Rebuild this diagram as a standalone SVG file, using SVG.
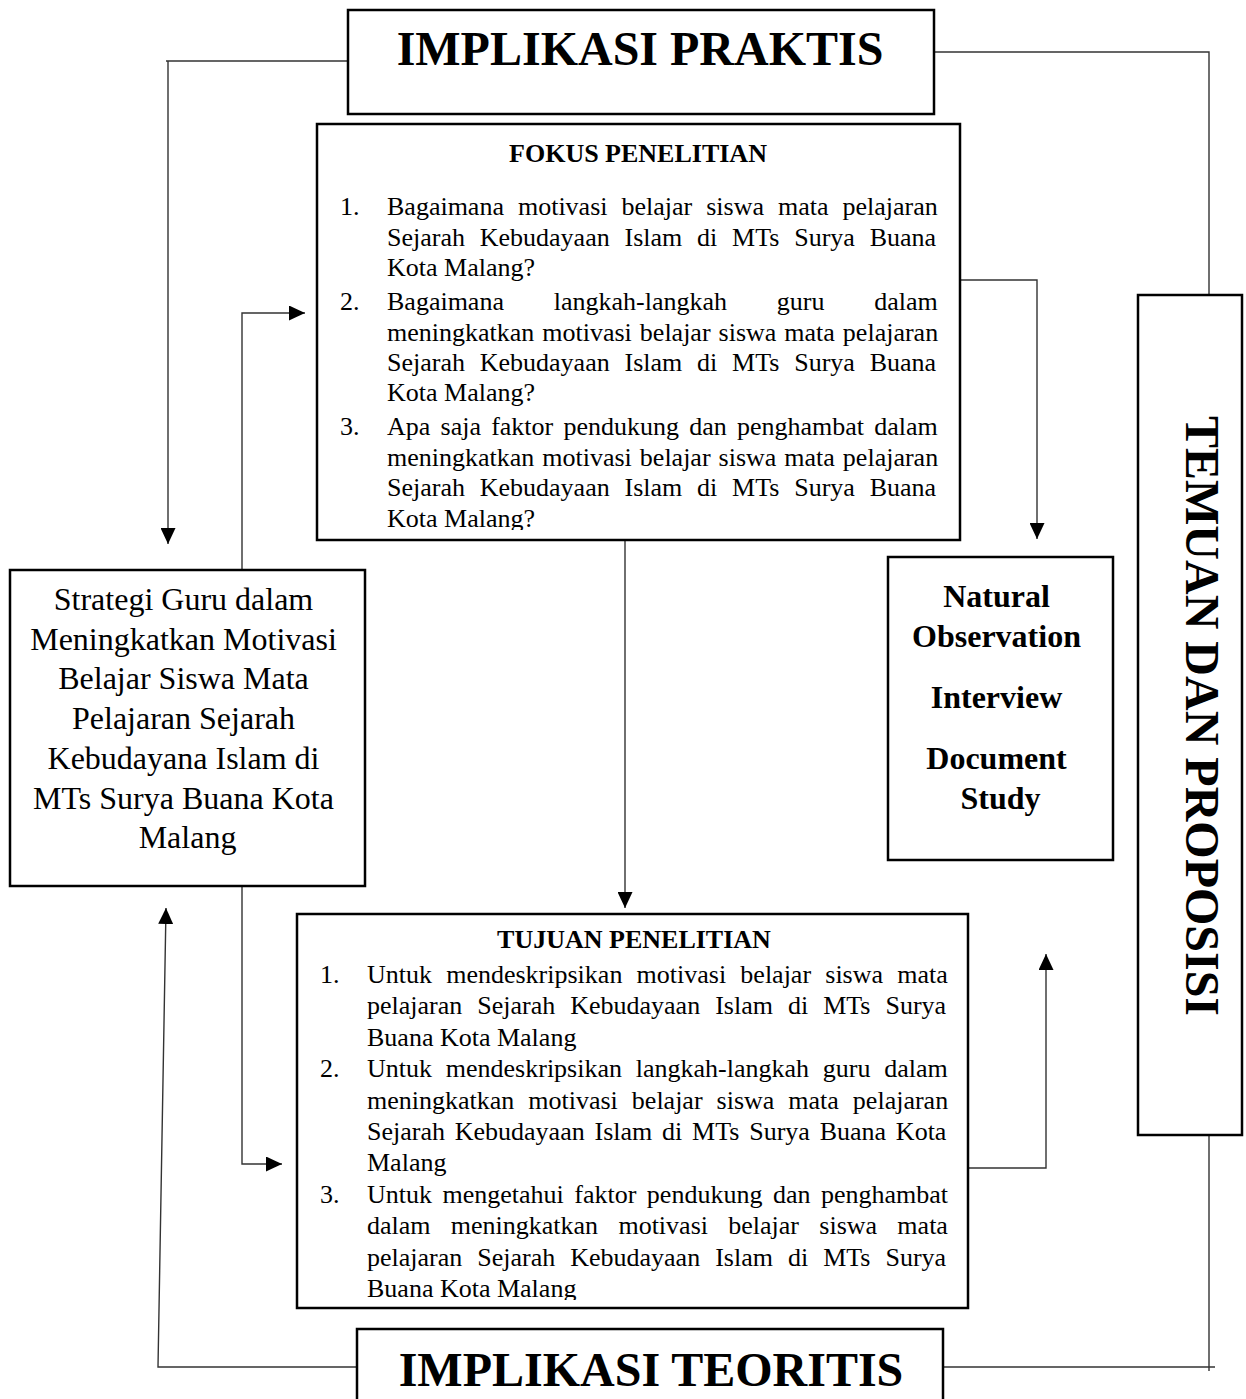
<svg xmlns="http://www.w3.org/2000/svg" width="1246" height="1399" viewBox="0 0 1246 1399">
<style>
.box{fill:#fff;stroke:#000;stroke-width:2.5}
.con{fill:none;stroke:#333;stroke-width:1.4}
.big{font-family:"Liberation Serif","Times New Roman",serif;font-weight:bold;font-size:48px;fill:#000}
.ttl{font-family:"Liberation Serif","Times New Roman",serif;font-weight:bold;font-size:26px;fill:#000}
.t{font-family:"Liberation Serif","Times New Roman",serif;font-size:26px;fill:#000}
.lt{font-family:"Liberation Serif","Times New Roman",serif;font-size:32px;fill:#000}
.bt{font-family:"Liberation Serif","Times New Roman",serif;font-weight:bold;font-size:32px;fill:#000}
</style>
<defs>
<marker id="arr" markerUnits="userSpaceOnUse" markerWidth="16" markerHeight="15" refX="16" refY="7.5" orient="auto">
<path d="M0,0 L16,7.5 L0,15 z" fill="#000"/>
</marker>
<clipPath id="clipF"><rect x="317" y="124" width="643" height="406"/></clipPath>
<clipPath id="clipT"><rect x="297" y="914" width="671" height="386"/></clipPath>
</defs>
<rect width="1246" height="1399" fill="#fff"/>

<g id="connectors">
<path class="con" d="M348,61 H166 M168,61 V544" marker-end="url(#arr)"/>
<path class="con" d="M934,52 H1209 V295"/>
<path class="con" d="M242,570 V313 H305" marker-end="url(#arr)"/>
<path class="con" d="M960,280 H1037 V539" marker-end="url(#arr)"/>
<path class="con" d="M625,540 V908" marker-end="url(#arr)"/>
<path class="con" d="M242,886 V1164 H282" marker-end="url(#arr)"/>
<path class="con" d="M968,1168 H1046 V954" marker-end="url(#arr)"/>
<path class="con" d="M357,1367 H158 L166,908" marker-end="url(#arr)"/>
<path class="con" d="M943,1367 H1215 M1209,1371 V1135"/>
</g>

<g id="implikasi-praktis">
<rect class="box" x="348" y="10" width="586" height="104"/>
<text class="big" x="640" y="65" text-anchor="middle">IMPLIKASI PRAKTIS</text>
</g>

<g id="fokus-penelitian">
<rect class="box" x="317" y="124" width="643" height="416"/>
<text class="ttl" x="638" y="162" text-anchor="middle">FOKUS PENELITIAN</text>
<g clip-path="url(#clipF)">
<text class="t" x="340" y="215">1.</text>
<text class="t" x="387" y="215" word-spacing="7.5">Bagaimana motivasi belajar siswa mata pelajaran</text>
<text class="t" x="387" y="245.5" word-spacing="8.3">Sejarah Kebudayaan Islam di MTs Surya Buana</text>
<text class="t" x="387" y="276">Kota Malang?</text>
<text class="t" x="340" y="310">2.</text>
<text class="t" x="387" y="310" word-spacing="43.3">Bagaimana langkah-langkah guru dalam</text>
<text class="t" x="387" y="340.5" word-spacing="1.5">meningkatkan motivasi belajar siswa mata pelajaran</text>
<text class="t" x="387" y="371" word-spacing="8.3">Sejarah Kebudayaan Islam di MTs Surya Buana</text>
<text class="t" x="387" y="401">Kota Malang?</text>
<text class="t" x="340" y="435">3.</text>
<text class="t" x="387" y="435" word-spacing="3.7">Apa saja faktor pendukung dan penghambat dalam</text>
<text class="t" x="387" y="465.5" word-spacing="1.5">meningkatkan motivasi belajar siswa mata pelajaran</text>
<text class="t" x="387" y="496" word-spacing="8.3">Sejarah Kebudayaan Islam di MTs Surya Buana</text>
<text class="t" x="387" y="526.5">Kota Malang?</text>
</g>
</g>

<g id="strategi-guru">
<rect class="box" x="10" y="570" width="355" height="316"/>
<text class="lt" text-anchor="middle">
<tspan x="187.5" y="610">Strategi Guru dalam</tspan>
<tspan x="187.5" y="649.7">Meningkatkan Motivasi</tspan>
<tspan x="187.5" y="689.4">Belajar Siswa Mata</tspan>
<tspan x="187.5" y="729.1">Pelajaran Sejarah</tspan>
<tspan x="187.5" y="768.8">Kebudayana Islam di</tspan>
<tspan x="187.5" y="808.5">MTs Surya Buana Kota</tspan>
<tspan x="187.5" y="848.2">Malang</tspan>
</text>
</g>

<g id="metode">
<rect class="box" x="888" y="557" width="225" height="303"/>
<text class="bt" text-anchor="middle">
<tspan x="1000.5" y="607">Natural</tspan>
<tspan x="1000.5" y="647">Observation</tspan>
<tspan x="1000.5" y="708">Interview</tspan>
<tspan x="1000.5" y="769">Document</tspan>
<tspan x="1000.5" y="809">Study</tspan>
</text>
</g>

<g id="temuan-proposisi">
<rect class="box" x="1138" y="295" width="104" height="840"/>
<text class="big" transform="translate(1186,716) rotate(90)" x="0" y="0" text-anchor="middle">TEMUAN DAN PROPOSISI</text>
</g>

<g id="tujuan-penelitian">
<rect class="box" x="297" y="914" width="671" height="394"/>
<text class="ttl" x="634" y="948" text-anchor="middle">TUJUAN PENELITIAN</text>
<g clip-path="url(#clipT)">
<text class="t" x="320" y="982.5">1.</text>
<text class="t" x="367" y="982.5" word-spacing="7.7">Untuk mendeskripsikan motivasi belajar siswa mata</text>
<text class="t" x="367" y="1014" word-spacing="8.5">pelajaran Sejarah Kebudayaan Islam di MTs Surya</text>
<text class="t" x="367" y="1045.5">Buana Kota Malang</text>
<text class="t" x="320" y="1077">2.</text>
<text class="t" x="367" y="1077" word-spacing="7.3">Untuk mendeskripsikan langkah-langkah guru dalam</text>
<text class="t" x="367" y="1108.5" word-spacing="7.5">meningkatkan motivasi belajar siswa mata pelajaran</text>
<text class="t" x="367" y="1140" word-spacing="3.3">Sejarah Kebudayaan Islam di MTs Surya Buana Kota</text>
<text class="t" x="367" y="1171">Malang</text>
<text class="t" x="320" y="1202.5">3.</text>
<text class="t" x="367" y="1202.5" word-spacing="4">Untuk mengetahui faktor pendukung dan penghambat</text>
<text class="t" x="367" y="1234" word-spacing="13.8">dalam meningkatkan motivasi belajar siswa mata</text>
<text class="t" x="367" y="1265.5" word-spacing="8.5">pelajaran Sejarah Kebudayaan Islam di MTs Surya</text>
<text class="t" x="367" y="1297">Buana Kota Malang</text>
</g>
</g>

<g id="implikasi-teoritis">
<rect class="box" x="357" y="1329" width="586" height="100"/>
<text class="big" x="651" y="1386" text-anchor="middle">IMPLIKASI TEORITIS</text>
</g>
</svg>
